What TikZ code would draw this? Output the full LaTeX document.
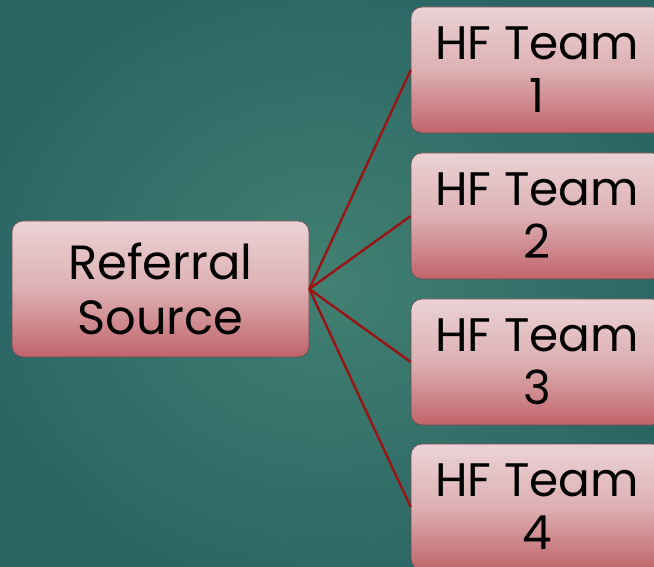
\documentclass[tikz,border=0pt]{standalone}
\usepackage{fontspec}
\setmainfont{Poppins}
\definecolor{bgin}{HTML}{418072}
\definecolor{bgout}{HTML}{2A6564}
\definecolor{boxtop}{HTML}{EBD2D5}
\definecolor{boxmid}{HTML}{DDB0B3}
\definecolor{boxbot}{HTML}{C0646A}
\definecolor{boxedge}{HTML}{6E4A4A}
\definecolor{link}{HTML}{9A1414}
\tikzset{
  card/.style={rounded corners=11pt, draw=boxedge, line width=0.6pt,
    top color=boxtop, bottom color=boxbot, middle color=boxmid,
    align=center, inner sep=0pt,
    font=\fontsize{47}{53}\selectfont},
  link/.style={draw=link, line width=2.4pt}
}
\begin{document}
\begin{tikzpicture}[x=1pt,y=1pt]
  \useasboundingbox (0,0) rectangle (654,566);
  \clip (0,0) rectangle (654,566);
  % backdrop
  \shade[inner color=bgin, outer color=bgout] (-40,-40) rectangle (694,606);
  % source card
  \node[card, minimum width=297pt, minimum height=136pt,
        font=\fontsize{48}{55}\selectfont] (src) at (160.5,277) {Referral\\Source};
  % team cards
  \node[card, minimum width=252pt, minimum height=126pt] (t1) at (537,496) {HF Team\\1};
  \node[card, minimum width=252pt, minimum height=126pt] (t2) at (537,350) {HF Team\\2};
  \node[card, minimum width=252pt, minimum height=126pt] (t3) at (537,204) {HF Team\\3};
  \node[card, minimum width=252pt, minimum height=126pt] (t4) at (537,59) {HF Team\\4};
  % connectors
  \foreach \t in {t1,t2,t3,t4}
    \draw[link] (src.east) -- (\t.west);
\end{tikzpicture}
\end{document}
